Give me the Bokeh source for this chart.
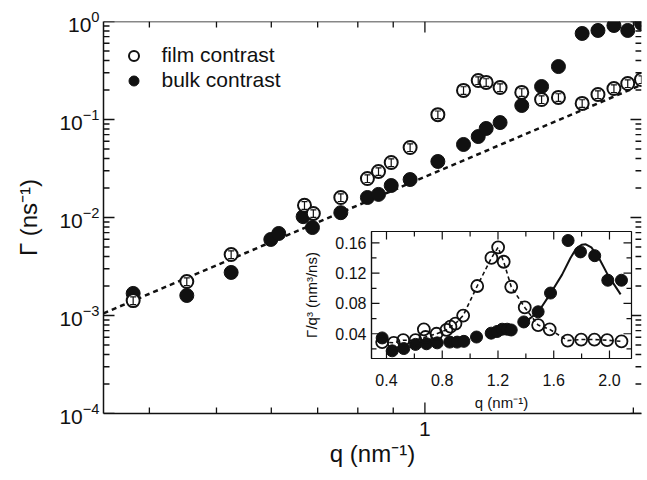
import math
from bokeh.plotting import figure
from bokeh.models import (Range1d, FixedTicker, ColumnDataSource, Span,
                          Whisker, TeeHead, Legend, LegendItem, PrintfTickFormatter,
                          BasicTickFormatter, GridBox)
from bokeh.embed import file_html
from bokeh.resources import INLINE

FONT = "Liberation Sans"
INK = "#111111"

# ---------------- main panel data ----------------
film_q = [0.379, 0.453, 0.525, 0.670, 0.690, 0.756, 0.826, 0.857, 0.894, 0.952, 1.044,
          1.137, 1.194, 1.226, 1.284, 1.380, 1.474, 1.559, 1.687, 1.778, 1.875, 1.963, 2.055]
film_G = [1.42e-3, 2.22e-3, 4.19e-3, 0.0133, 0.0110, 0.0160, 0.0250, 0.0295, 0.0364, 0.0518, 0.112,
          0.198, 0.250, 0.239, 0.212, 0.189, 0.160, 0.168, 0.146, 0.180, 0.207, 0.233, 0.256]
film_err = [0.09, 0.09, 0.09, 0.09, 0.09, 0.09, 0.09, 0.09, 0.09, 0.09, 0.09,
            0.09, 0.09, 0.09, 0.09, 0.09, 0.09, 0.09, 0.09, 0.09, 0.09, 0.09, 0.09]

bulk_q = [0.379, 0.453, 0.525, 0.599, 0.615, 0.667, 0.688, 0.756, 0.826, 0.857, 0.894, 0.952,
          1.044, 1.137, 1.194, 1.226, 1.284, 1.380, 1.474, 1.559, 1.687, 1.778, 1.875, 1.963, 2.055]
bulk_G = [1.68e-3, 1.60e-3, 2.75e-3, 5.97e-3, 6.87e-3, 0.0102, 0.0079, 0.0112, 0.0160, 0.0172, 0.0212, 0.0244,
          0.0373, 0.0556, 0.067, 0.081, 0.093, 0.139, 0.217, 0.347, 0.755, 0.81, 0.91, 0.81, 0.954]

# q^3 reference line (end points)
ref_q = [0.3434, 2.055]
ref_G = [1.053e-3, 0.2257]

main_x_major = [1.0]
main_x_minor = [0.4, 0.5, 0.6, 0.7, 0.8, 0.9, 2.0]
main_y_major = [1e-4, 1e-3, 1e-2, 1e-1, 1.0]
main_y_minor = [2e-4, 3e-4, 4e-4, 5e-4, 6e-4, 7e-4, 8e-4, 9e-4,
                2e-3, 3e-3, 4e-3, 5e-3, 6e-3, 7e-3, 8e-3, 9e-3,
                2e-2, 3e-2, 4e-2, 5e-2, 6e-2, 7e-2, 8e-2, 9e-2,
                0.2, 0.3, 0.4, 0.5, 0.6, 0.7, 0.8, 0.9]

# ---------------- inset data ----------------
in_film_q = [0.369, 0.452, 0.520, 0.608, 0.668, 0.680, 0.759, 0.830, 0.859, 0.895, 0.950, 1.051,
             1.153, 1.201, 1.241, 1.295, 1.392, 1.488, 1.571, 1.700, 1.797, 1.892, 1.983, 2.086]
in_film_y = [0.029, 0.028, 0.0315, 0.0315, 0.0458, 0.0357, 0.040, 0.0451, 0.0493, 0.0535, 0.064, 0.103,
             0.140, 0.154, 0.135, 0.102, 0.0747, 0.0514, 0.0458, 0.031, 0.0324, 0.0324, 0.0315, 0.030]

in_bulk_q = [0.369, 0.441, 0.524, 0.608, 0.687, 0.764, 0.854, 0.907, 0.955, 1.046, 1.151, 1.194,
             1.230, 1.266, 1.295, 1.385, 1.488, 1.577, 1.703, 1.792, 1.894, 1.988, 2.086]
in_bulk_y = [0.0345, 0.0175, 0.0205, 0.026, 0.0268, 0.028, 0.029, 0.029, 0.030, 0.0357, 0.0408, 0.043,
             0.046, 0.046, 0.045, 0.0556, 0.069, 0.0937, 0.163, 0.148, 0.143, 0.1106, 0.1106]

# guide curves in the inset
dash_q = [0.369, 0.452, 0.520, 0.608, 0.680, 0.759, 0.830, 0.859, 0.895, 0.950, 1.051,
          1.153, 1.201, 1.241, 1.295, 1.392, 1.488, 1.571, 1.700, 1.797, 1.892, 1.983, 2.086]
dash_y = [0.029, 0.028, 0.0315, 0.0315, 0.0357, 0.040, 0.0451, 0.0493, 0.0535, 0.064, 0.103,
          0.140, 0.154, 0.135, 0.102, 0.0747, 0.0514, 0.0458, 0.031, 0.0324, 0.0324, 0.0315, 0.030]
fit_q = [1.40, 1.49, 1.58, 1.66, 1.72, 1.76, 1.80, 1.83, 1.87, 1.93, 1.99, 2.08]
fit_y = [0.056, 0.069, 0.094, 0.118, 0.140, 0.152, 0.1575, 0.158, 0.154, 0.138, 0.117, 0.092]

in_x_major = [0.4, 0.8, 1.2, 1.6, 2.0]
in_x_minor = [0.6, 1.0, 1.4, 1.8]
in_y_major = [0.04, 0.08, 0.12, 0.16]
in_y_minor = [0.02, 0.06, 0.10, 0.14]


def style_axis(ax, lw, label_size, tick_size, standoff, label_standoff):
    ax.major_tick_in = 0
    ax.major_tick_out = 0
    ax.minor_tick_in = 0
    ax.minor_tick_out = 0
    ax.axis_line_width = lw
    ax.axis_line_color = INK
    ax.major_label_text_font = FONT
    ax.major_label_text_font_size = tick_size
    ax.major_label_text_color = INK
    ax.major_label_standoff = standoff
    ax.axis_label_text_font = FONT
    ax.axis_label_text_font_size = label_size
    ax.axis_label_text_font_style = "normal"
    ax.axis_label_text_color = INK
    ax.axis_label_standoff = label_standoff


def inward_ticks(fig, xr, yr, xticks, yticks, length, lw, sides):
    """Draw inward tick marks from the frame edges using screen-length rays."""
    if "bottom" in sides:
        fig.ray(x=xticks, y=[yr.start] * len(xticks), length=length, angle=math.pi / 2,
                length_units="screen", line_color=INK, line_width=lw)
    if "top" in sides:
        fig.ray(x=xticks, y=[yr.end] * len(xticks), length=length, angle=-math.pi / 2,
                length_units="screen", line_color=INK, line_width=lw)
    if "left" in sides:
        fig.ray(x=[xr.start] * len(yticks), y=yticks, length=length, angle=0,
                length_units="screen", line_color=INK, line_width=lw)
    if "right" in sides:
        fig.ray(x=[xr.end] * len(yticks), y=yticks, length=length, angle=math.pi,
                length_units="screen", line_color=INK, line_width=lw)


SIDES = ("bottom", "top", "left", "right")

# ---------------- main figure ----------------
mx = Range1d(0.3434, 2.055)
my = Range1d(1e-4, 1.0)
main = figure(width=647, height=480, x_axis_type="log", y_axis_type="log",
              x_range=mx, y_range=my,
              output_backend="svg", toolbar_location=None,
              min_border_left=103, min_border_right=0, min_border_top=21, min_border_bottom=67)
main.grid.visible = False
main.outline_line_color = None
main.background_fill_color = "white"
main.border_fill_color = "white"

main.xaxis.ticker = FixedTicker(ticks=main_x_major, minor_ticks=main_x_minor)
main.yaxis.ticker = FixedTicker(ticks=main_y_major, minor_ticks=main_y_minor)
main.xaxis.formatter = BasicTickFormatter()
main.xaxis.axis_label = "q (nm\u207b\u00b9)"
main.yaxis.axis_label = "\u0393 (ns\u207b\u00b9)"
style_axis(main.xaxis[0], 1.5, "24px", "21px", 8, 1)
style_axis(main.yaxis[0], 1.5, "24px", "21px", 4, 14)

main.add_layout(Span(location=1.0, dimension="width", line_color=INK, line_width=1.5))

inward_ticks(main, mx, my, main_x_major, main_y_major, 11, 1.3, SIDES)
inward_ticks(main, mx, my, main_x_minor, main_y_minor, 6, 1.3, SIDES)

main.line(ref_q, ref_G, line_dash="5 4", line_width=2.5, line_color=INK)
r_bulk = main.scatter(bulk_q, bulk_G, marker="circle", size=14,
                      fill_color=INK, line_color=INK)
r_film = main.scatter(film_q, film_G, marker="circle", size=13,
                      fill_color="white", line_color=INK, line_width=2)

err_src = ColumnDataSource(data=dict(
    q=film_q,
    up=[g * (1 + e) for g, e in zip(film_G, film_err)],
    lo=[g * (1 - e) for g, e in zip(film_G, film_err)],
))
wh = Whisker(source=err_src, base="q", upper="up", lower="lo", line_width=1.2,
             line_color=INK, level="overlay",
             upper_head=TeeHead(size=6, line_width=1.2, line_color=INK),
             lower_head=TeeHead(size=6, line_width=1.2, line_color=INK))
main.add_layout(wh)

legend = Legend(items=[LegendItem(label="film contrast", renderers=[r_film]),
                       LegendItem(label="bulk contrast", renderers=[r_bulk])],
                location=(17.5, 320.5), padding=0, margin=0, spacing=0,
                glyph_width=25, glyph_height=25, label_height=25, label_standoff=16,
                label_text_font=FONT, label_text_font_size="21px",
                label_text_color=INK,
                border_line_color=None, background_fill_alpha=0)
main.add_layout(legend)

# ---------------- inset figure ----------------
ix = Range1d(0.2924, 2.158)
iy = Range1d(0.00737, 0.1749)
inset = figure(width=347, height=205, x_range=ix, y_range=iy,
               output_backend="svg", toolbar_location=None,
               min_border_left=81, min_border_right=6, min_border_top=11, min_border_bottom=62)
inset.grid.visible = False
inset.outline_line_color = INK
inset.outline_line_width = 1.2
inset.background_fill_color = "white"
inset.border_fill_alpha = 0

inset.xaxis.ticker = FixedTicker(ticks=in_x_major, minor_ticks=in_x_minor)
inset.yaxis.ticker = FixedTicker(ticks=in_y_major, minor_ticks=in_y_minor)
inset.xaxis.formatter = PrintfTickFormatter(format="%.1f")
inset.yaxis.formatter = PrintfTickFormatter(format="%.2f")
inset.xaxis.axis_label = "q (nm\u207b\u00b9)"
inset.yaxis.axis_label = "\u0393/q\u00b3 (nm\u00b3/ns)"
style_axis(inset.xaxis[0], 1.2, "15px", "16px", 15, 5)
style_axis(inset.yaxis[0], 1.2, "15px", "16px", 5, 12)

inward_ticks(inset, ix, iy, in_x_major, in_y_major, 8, 1.2, SIDES)
inward_ticks(inset, ix, iy, in_x_minor, in_y_minor, 5, 1.2, SIDES)

inset.line(dash_q, dash_y, line_dash="4 3", line_width=1.6, line_color=INK)
inset.line(fit_q, fit_y, line_width=2, line_color=INK)
inset.scatter(in_bulk_q, in_bulk_y, marker="circle", size=12,
              fill_color=INK, line_color=INK)
inset.scatter(in_film_q, in_film_y, marker="circle", size=12,
              fill_color=None, line_color=INK, line_width=1.8)

grid = GridBox(children=[(main, 0, 0, 2, 2), (inset, 1, 1)],
               rows=["220px", "260px"], cols=["290px", "357px"], spacing=0)

open("out.html", "w").write(file_html(grid, INLINE))
